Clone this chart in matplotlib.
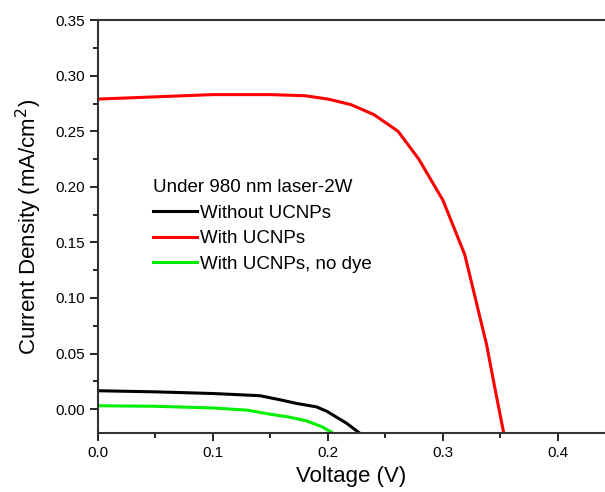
import numpy as np
import matplotlib
matplotlib.use("Agg")
import matplotlib.pyplot as plt
from matplotlib.ticker import MultipleLocator

plt.rcParams['font.family'] = ['Liberation Sans', 'DejaVu Sans']

# J-V curves
v_red = [0.0, 0.05, 0.10, 0.15, 0.18, 0.20, 0.22, 0.24, 0.261, 0.279, 0.30, 0.319, 0.338, 0.345, 0.353]
j_red = [0.279, 0.281, 0.283, 0.283, 0.282, 0.279, 0.274, 0.265, 0.250, 0.225, 0.188, 0.139, 0.058, 0.020, -0.022]

v_black = [0.0, 0.05, 0.10, 0.121, 0.141, 0.16, 0.173, 0.19, 0.199, 0.216, 0.228]
j_black = [0.0165, 0.0155, 0.014, 0.013, 0.012, 0.008, 0.005, 0.002, -0.002, -0.0126, -0.022]

v_green = [0.0, 0.05, 0.10, 0.13, 0.149, 0.165, 0.181, 0.195, 0.205]
j_green = [0.003, 0.0025, 0.001, -0.001, -0.0045, -0.007, -0.0105, -0.016, -0.022]

labels = ['Without UCNPs', 'With UCNPs', 'With UCNPs, no dye']
colors = ['#000000', '#ff0000', '#00ee00']

fig = plt.figure(figsize=(6.05, 4.92), dpi=100)
ax = fig.add_axes([0.162, 0.120, 0.838, 0.839])

ax.plot(v_black, j_black, color=colors[0], lw=2.2, label=labels[0])
ax.plot(v_red, j_red, color=colors[1], lw=2.2, label=labels[1])
ax.plot(v_green, j_green, color=colors[2], lw=2.2, label=labels[2])

ax.set_xlim(0, 0.441)
ax.set_ylim(-0.0215, 0.35)
ax.xaxis.set_major_locator(MultipleLocator(0.1))
ax.xaxis.set_minor_locator(MultipleLocator(0.05))
ax.yaxis.set_major_locator(MultipleLocator(0.05))
ax.yaxis.set_minor_locator(MultipleLocator(0.025))
ax.xaxis.set_major_formatter(matplotlib.ticker.FormatStrFormatter('%.1f'))
ax.yaxis.set_major_formatter(matplotlib.ticker.FormatStrFormatter('%.2f'))

ax.spines['right'].set_visible(False)
for s in ['left', 'bottom', 'top']:
    ax.spines[s].set_linewidth(1.5)
    ax.spines[s].set_color('#333333')
ax.tick_params(which='major', direction='out', length=6, width=1.2, labelsize=11)
ax.tick_params(which='minor', direction='out', length=3.5, width=1.2)
ax.tick_params(top=False, right=False)

ax.set_xlabel('Voltage (V)', fontsize=16, labelpad=4)
ax.set_ylabel('Current Density (mA/cm$^2$)', fontsize=16, labelpad=8)

leg = ax.legend(loc='upper left', bbox_to_anchor=(0.098, 0.627), frameon=False,
                title='Under 980 nm laser-2W', fontsize=13.5, title_fontsize=13.5,
                handlelength=2.35, handletextpad=0.15, labelspacing=0.45,
                borderpad=0.27, borderaxespad=0)
leg._legend_box.align = 'left'

fig.savefig('out.png', dpi=100)
